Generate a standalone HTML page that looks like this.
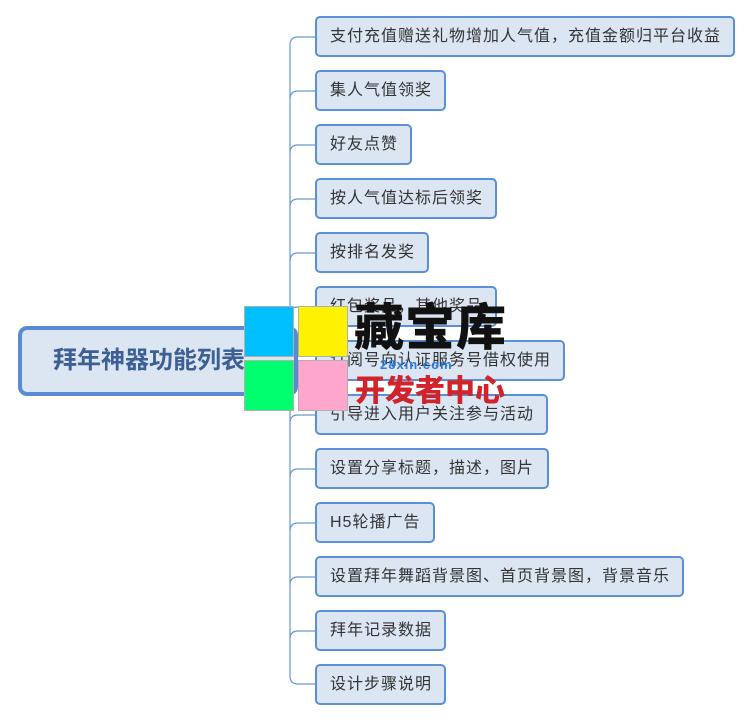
<!DOCTYPE html>
<html><head><meta charset="utf-8"><style>
body{margin:0;width:752px;height:722px;background:#fff;position:relative;overflow:hidden;font-family:"Liberation Sans","Noto Sans CJK SC",sans-serif}
.b{position:absolute;left:315px;height:41px;box-sizing:border-box;border:2px solid #5b8fd6;border-radius:5px;background:#dce6f3;color:#333;font-size:16px;letter-spacing:1px;line-height:38px;padding-left:13px;white-space:nowrap}
.c{position:absolute;left:18px;top:326px;width:280px;height:70px;box-sizing:border-box;border:4px solid #5a8ad2;border-radius:9px;background:#dce6f3;color:#3d5f93;font-weight:bold;font-size:24px;line-height:62px;padding-left:31px}
.sq{position:absolute;width:48px;height:49px;border:1px solid #b0b0b0}
</style></head><body>
<svg width="752" height="722" style="position:absolute;left:0;top:0">
<g fill="none" stroke="#6a96d4" stroke-width="1.2">
<path d="M280 361 H290"/>
<path d="M315 37 H298 Q290 37 290 45 V676 Q290 684 298 684 H315"/>
<path d="M290 99 Q290 91 298 91 H315"/>
<path d="M290 153 Q290 145 298 145 H315"/>
<path d="M290 207 Q290 199 298 199 H315"/>
<path d="M290 261 Q290 253 298 253 H315"/>
<path d="M290 315 Q290 307 298 307 H315"/>
<path d="M290 369 Q290 361 298 361 H315"/>
<path d="M290 423 Q290 415 298 415 H315"/>
<path d="M290 477 Q290 469 298 469 H315"/>
<path d="M290 531 Q290 523 298 523 H315"/>
<path d="M290 585 Q290 577 298 577 H315"/>
<path d="M290 639 Q290 631 298 631 H315"/>
</g></svg>
<div class="c">拜年神器功能列表</div>
<div class="b" style="top:16px;width:420px">支付充值赠送礼物增加人气值，充值金额归平台收益</div>
<div class="b" style="top:70px;width:131px">集人气值领奖</div>
<div class="b" style="top:124px;width:97px">好友点赞</div>
<div class="b" style="top:178px;width:182px">按人气值达标后领奖</div>
<div class="b" style="top:232px;width:114px">按排名发奖</div>
<div class="b" style="top:286px;width:182px">红包奖品，其他奖品</div>
<div class="b" style="top:340px;width:250px">订阅号向认证服务号借权使用</div>
<div class="b" style="top:394px;width:233px">引导进入用户关注参与活动</div>
<div class="b" style="top:448px;width:234px">设置分享标题，描述，图片</div>
<div class="b" style="top:502px;width:120px">H5轮播广告</div>
<div class="b" style="top:556px;width:369px">设置拜年舞蹈背景图、首页背景图，背景音乐</div>
<div class="b" style="top:610px;width:131px">拜年记录数据</div>
<div class="b" style="top:664px;width:131px">设计步骤说明</div>
<div class="sq" style="left:244px;top:306px;background:#00bfff"></div>
<div class="sq" style="left:298px;top:306px;background:#fff200"></div>
<div class="sq" style="left:244px;top:360px;background:#00ff6e"></div>
<div class="sq" style="left:298px;top:360px;background:#ffa6cc"></div>
<div style="position:absolute;left:354px;top:300px;font-size:50px;font-weight:900;color:#111;line-height:56px;letter-spacing:1px">藏宝库</div>
<div style="position:absolute;left:380px;top:357px;font-size:13px;font-weight:bold;color:#2b7be0;line-height:16px;letter-spacing:1px">28xin.com</div>
<div style="position:absolute;left:355px;top:374px;font-size:30px;font-weight:900;color:#d2232a;line-height:36px;letter-spacing:0px">开发者中心</div>
</body></html>
